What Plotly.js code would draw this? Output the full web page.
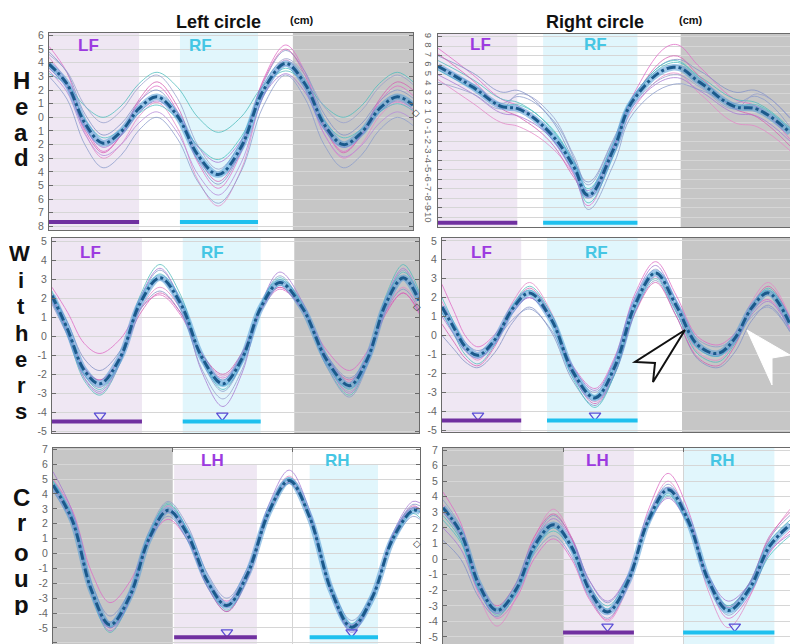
<!DOCTYPE html>
<html><head><meta charset="utf-8">
<script src="https://cdn.plot.ly/plotly-3.0.1.min.js"></script>
<style>html,body{margin:0;padding:0;background:#fff}#chart{width:790px;height:644px}</style>
</head><body><div id="chart"></div>
<script>
// ---------------- DATA ----------------
// Head, left circle
const headL_x = [0, 0.15, 0.30, 0.45, 0.60, 0.75, 0.90, 1.07, 1.24, 1.41, 1.60, 1.78, 1.97, 2.13, 2.29, 2.45, 2.60, 2.75, 2.90, 3.03];
const headL_mean = [3.9, 2.45, -0.45, -1.9, -1.05, 0.65, 1.5, 0.08, -2.78, -4.2, -2.16, 1.91, 3.95, 2.46, -0.51, -2.0, -1.13, 0.63, 1.5, 0.9];
const headL_trials = [
  [5.2, 3.28, -0.58, -2.5, -1.3, 1.1, 2.3, 0.43, -3.33, -5.2, -2.58, 2.68, 5.3, 3.35, -0.55, -2.5, -1.3, 1.1, 2.3, 1.6],
  [4.8, 3.28, 0.23, -1.3, -0.48, 1.18, 2.0, 0.28, -3.18, -4.9, -2.45, 2.45, 4.9, 3.35, 0.25, -1.3, -0.48, 1.18, 2.0, 1.4],
  [4.4, 2.55, -1.15, -3.0, -1.98, 0.08, 1.1, -0.8, -4.6, -6.5, -3.83, 1.53, 4.2, 2.4, -1.2, -3.0, -1.98, 0.08, 1.1, 0.4],
  [3.2, 2.4, 0.8, 0.0, 0.83, 2.48, 3.3, 2.2, 0.0, -1.1, 0.03, 2.28, 3.4, 2.55, 0.85, 0.0, 0.83, 2.48, 3.3, 2.6],
  [3.6, 2.15, -0.75, -2.2, -1.35, 0.35, 1.2, 0.08, -2.18, -3.3, -1.68, 1.58, 3.2, 1.85, -0.85, -2.2, -1.35, 0.35, 1.2, 0.6],
  [3.0, 1.33, -2.03, -3.7, -2.78, -0.93, 0.0, -1.58, -4.73, -6.3, -3.95, 0.75, 3.1, 1.4, -2.0, -3.7, -2.78, -0.93, 0.0, -0.6],
  [4.0, 2.35, -0.95, -2.6, -1.3, 1.3, 2.6, 0.78, -2.88, -4.7, -2.28, 2.58, 5.0, 3.1, -0.7, -2.6, -1.3, 1.3, 2.6, 2.0],
  [3.8, 2.48, -0.18, -1.5, -0.9, 0.3, 0.9, -0.1, -2.1, -3.1, -1.43, 1.93, 3.6, 2.33, -0.23, -1.5, -0.88, 0.38, 1.0, 0.5],
  [4.6, 3.35, 0.85, -0.4, 0.48, 2.23, 3.1, 1.38, -2.08, -3.8, -1.78, 2.28, 4.3, 3.13, 0.78, -0.4, 0.48, 2.23, 3.1, 2.4],
  [3.4, 1.85, -1.25, -2.8, -2.0, -0.4, 0.4, -1.13, -4.18, -5.7, -3.33, 1.43, 3.8, 2.13, -1.23, -2.9, -2.08, -0.43, 0.4, -0.2]
];
// Head, right circle
const headR_x = [0, 0.29, 0.52, 0.68, 0.93, 1.13, 1.25, 1.46, 1.63, 1.96, 2.18, 2.46, 2.66, 2.93];
const headR_mean = [5.9, 3.7, 1.7, 1.35, -1.1, -4.7, -7.7, -2.9, 2.4, 5.8, 4.2, 1.7, 1.35, -1.1];
const headR_trials = [
  [7.8, 5.0, 2.5, 1.6, -1.5, -5.5, -8.8, -3.0, 3.0, 8.2, 5.8, 2.5, 1.6, -1.8],
  [7.0, 5.2, 3.2, 3.3, 0.5, -4.0, -6.3, -1.8, 2.8, 6.6, 5.4, 3.2, 3.3, 0.4],
  [4.5, 2.0, 0.0, -0.5, -2.5, -5.5, -8.0, -3.5, 1.5, 5.2, 3.0, 0.0, -0.5, -3.0],
  [6.5, 4.5, 2.5, 2.0, -0.5, -4.5, -8.5, -3.5, 2.5, 6.3, 4.8, 2.5, 2.0, -0.6],
  [5.0, 3.0, 1.0, 0.6, -1.5, -5.2, -7.2, -2.5, 1.8, 4.7, 3.3, 1.0, 0.6, -2.0],
  [6.0, 4.0, 2.0, 2.7, 0.6, -3.8, -9.2, -4.5, 1.0, 4.0, 3.4, 2.0, 2.7, -0.5],
  [7.2, 4.4, 1.5, 0.5, -2.0, -5.8, -7.8, -2.6, 2.6, 7.0, 4.8, 1.5, 0.5, -2.5],
  [5.5, 3.5, 1.8, 1.8, -0.4, -4.2, -7.0, -2.2, 2.8, 6.5, 4.6, 1.8, 1.8, -0.8],
  [4.2, 3.0, 1.4, 3.0, 1.0, -3.5, -6.6, -2.0, 2.0, 5.0, 3.7, 1.4, 3.0, 0.5]
];
// Withers, left circle
const withL_x = [0, 0.13, 0.27, 0.4, 0.57, 0.73, 0.9, 1.075, 1.25, 1.425, 1.585, 1.74, 1.9, 2.09, 2.29, 2.48, 2.63, 2.78, 2.93, 3.06];
const withL_mean = [2.15, 0.38, -1.8, -2.5, -1.1, 1.7, 3.1, 1.7, -1.1, -2.5, -1.16, 1.51, 2.85, 1.49, -1.24, -2.6, -1.18, 1.68, 3.1, 1.9];
const withL_trials = [
  [2.6, 1.27, -0.38, -0.9, -0.13, 1.43, 2.2, 1.1, -1.1, -2.2, -1.03, 1.33, 2.5, 1.43, -0.73, -1.8, -0.78, 1.28, 2.3, 1.2],
  [2.3, 0.74, -1.19, -1.8, -0.75, 1.35, 2.4, 1.23, -1.13, -2.3, -1.05, 1.45, 2.7, 1.48, -0.98, -2.2, -1.03, 1.33, 2.5, 1.4],
  [1.8, 0.24, -1.69, -2.3, -1.08, 1.38, 2.6, 1.43, -0.93, -2.1, -0.93, 1.43, 2.6, 1.35, -1.15, -2.4, -1.15, 1.35, 2.6, 1.5],
  [2.0, 0.06, -2.34, -3.1, -1.38, 2.08, 3.8, 2.15, -1.15, -2.8, -1.35, 1.55, 3.0, 1.48, -1.58, -3.1, -1.38, 2.08, 3.8, 2.4],
  [2.2, 0.22, -2.22, -3.0, -1.35, 1.95, 3.6, 1.78, -1.88, -3.7, -1.93, 1.63, 3.4, 1.8, -1.4, -3.0, -1.35, 1.95, 3.6, 2.2],
  [1.9, 0.08, -2.18, -2.9, -1.3, 1.9, 3.5, 1.9, -1.3, -2.9, -1.38, 1.68, 3.2, 1.6, -1.6, -3.2, -1.53, 1.83, 3.5, 2.0],
  [2.0, 0.37, -1.66, -2.3, -1.15, 1.15, 2.3, 1.23, -0.93, -2.0, -0.85, 1.45, 2.6, 1.38, -1.08, -2.3, -1.15, 1.15, 2.3, 1.3],
  [2.4, 0.42, -2.02, -2.8, -1.28, 1.78, 3.3, 1.83, -1.13, -2.6, -1.18, 1.68, 3.1, 1.63, -1.33, -2.8, -1.25, 1.85, 3.4, 2.3],
  [1.7, 0.03, -2.04, -2.7, -1.28, 1.58, 3.0, 1.43, -1.73, -3.3, -1.75, 1.35, 2.9, 1.45, -1.45, -2.9, -1.43, 1.53, 3.0, 1.9]
];
// Withers, right circle
const withR_x = [0, 0.1, 0.2, 0.3, 0.44, 0.59, 0.73, 0.91, 1.09, 1.275, 1.44, 1.61, 1.78, 1.95, 2.13, 2.3, 2.44, 2.58, 2.72, 2.9];
const withR_mean = [1.5, 0.4, -0.64, -1.05, -0.23, 1.43, 2.25, 0.86, -1.91, -3.3, -1.65, 1.65, 3.3, 1.6, -0.5, -0.95, -0.15, 1.45, 2.25, 0.6];
const withR_trials = [
  [2.7, 1.28, -0.07, -0.6, 0.05, 1.35, 2.0, 0.8, -1.6, -2.8, -1.13, 2.23, 3.9, 2.14, -0.06, -0.5, 0.1, 1.3, 1.9, 0.4],
  [0.0, -0.73, -1.43, -1.7, -0.9, 0.7, 1.5, 0.2, -2.4, -3.7, -2.05, 1.25, 2.9, 1.06, -1.24, -1.7, -0.88, 0.78, 1.6, 0.2],
  [1.8, 0.47, -0.8, -1.3, -0.28, 1.78, 2.8, 1.23, -1.93, -3.5, -1.85, 1.45, 3.1, 1.34, -0.86, -1.3, -0.28, 1.78, 2.8, 1.0],
  [1.2, 0.04, -1.07, -1.5, -0.48, 1.58, 2.6, 1.15, -1.75, -3.2, -1.65, 1.45, 3.0, 1.24, -0.96, -1.4, -0.43, 1.53, 2.5, 0.8],
  [1.0, 0.05, -0.85, -1.2, -0.4, 1.2, 2.0, 0.78, -1.68, -2.9, -1.25, 2.05, 3.7, 1.82, -0.53, -1.0, -0.3, 1.1, 1.8, 0.3],
  [1.6, 0.57, -0.42, -0.8, -0.25, 0.85, 1.4, 0.3, -1.9, -3.0, -1.38, 1.88, 3.5, 1.86, -0.19, -0.6, -0.08, 0.98, 1.5, 0.2],
  [0.6, -0.35, -1.25, -1.6, -0.58, 1.48, 2.5, 0.98, -2.08, -3.6, -2.0, 1.2, 2.8, 1.04, -1.16, -1.6, -0.55, 1.55, 2.6, 0.9],
  [2.0, 0.67, -0.6, -1.1, -0.23, 1.53, 2.4, 0.85, -2.25, -3.8, -2.03, 1.53, 3.3, 1.54, -0.66, -1.1, -0.23, 1.53, 2.4, 0.6]
];
// Croup, left circle
const croupL_x = [0, 0.16, 0.32, 0.475, 0.64, 0.8, 0.96, 1.12, 1.29, 1.45, 1.62, 1.8, 1.97, 2.14, 2.32, 2.49, 2.66, 2.83, 3.0, 3.06];
const croupL_mean = [4.6, 2.25, -2.45, -4.8, -2.88, 0.98, 2.9, 1.3, -1.9, -3.5, -1.4, 2.8, 4.9, 2.44, -2.49, -4.95, -2.99, 0.94, 2.9, 2.8];
const croupL_trials = [
  [5.0, 2.93, -1.23, -3.3, -1.9, 0.9, 2.3, 0.93, -1.83, -3.2, -1.23, 2.73, 4.7, 2.33, -2.43, -4.8, -2.83, 1.13, 3.1, 3.0],
  [4.8, 2.55, -1.95, -4.2, -2.53, 0.83, 2.5, 0.9, -2.3, -3.9, -1.68, 2.78, 5.0, 2.45, -2.65, -5.2, -3.08, 1.18, 3.3, 3.2],
  [4.4, 2.05, -2.65, -5.0, -3.0, 1.0, 3.0, 1.4, -1.8, -3.4, -1.25, 3.05, 5.2, 2.68, -2.38, -4.9, -2.93, 1.03, 3.0, 2.9],
  [4.9, 2.35, -2.75, -5.3, -3.13, 1.23, 3.4, 1.6, -2.0, -3.8, -1.68, 2.58, 4.7, 2.35, -2.35, -4.7, -2.85, 0.85, 2.7, 2.4],
  [5.5, 2.83, -2.53, -5.2, -3.1, 1.1, 3.2, 1.5, -1.9, -3.6, -1.3, 3.3, 5.6, 2.88, -2.58, -5.3, -3.1, 1.3, 3.5, 3.4],
  [4.2, 2.0, -2.4, -4.6, -2.58, 1.48, 3.5, 1.88, -1.38, -3.0, -1.0, 3.0, 5.0, 2.63, -2.13, -4.5, -2.75, 0.75, 2.5, 2.3],
  [4.6, 2.2, -2.6, -5.0, -3.05, 0.85, 2.8, 1.13, -2.23, -3.9, -1.73, 2.63, 4.8, 2.33, -2.63, -5.1, -3.03, 1.13, 3.2, 3.0],
  [4.8, 2.38, -2.48, -4.9, -2.85, 1.25, 3.3, 1.6, -1.8, -3.5, -1.35, 2.95, 5.1, 2.58, -2.48, -5.0, -3.03, 0.93, 2.9, 2.8]
];
// Croup, right circle
const croupR_x = [0, 0.15, 0.3, 0.45, 0.61, 0.76, 0.92, 1.07, 1.22, 1.37, 1.54, 1.71, 1.875, 2.04, 2.21, 2.375, 2.55, 2.72, 2.89];
const croupR_mean = [3.3, 1.65, -1.65, -3.3, -1.93, 0.83, 2.2, 0.8, -2.0, -3.4, -1.44, 2.49, 4.45, 2.51, -1.36, -3.3, -1.93, 0.83, 2.2];
const croupR_trials = [
  [4.3, 2.28, -1.78, -3.8, -2.53, 0.03, 1.3, 0.0, -2.6, -3.9, -1.55, 3.15, 5.5, 3.18, -1.48, -3.8, -2.4, 0.4, 1.8],
  [1.2, -0.03, -2.48, -3.7, -2.08, 1.18, 2.8, 1.4, -1.4, -2.8, -1.1, 2.3, 4.0, 2.25, -1.25, -3.0, -1.55, 1.35, 2.8],
  [3.5, 1.55, -2.35, -4.3, -2.43, 1.33, 3.2, 1.4, -2.2, -4.0, -1.75, 2.75, 5.0, 2.65, -2.05, -4.4, -2.5, 1.3, 3.2],
  [2.8, 1.2, -2.0, -3.6, -2.2, 0.6, 2.0, 0.75, -1.75, -3.0, -1.2, 2.4, 4.2, 2.4, -1.2, -3.0, -1.63, 1.13, 2.5],
  [2.0, 0.63, -2.13, -3.5, -1.98, 1.08, 2.6, 1.28, -1.38, -2.7, -1.05, 2.25, 3.9, 2.25, -1.05, -2.7, -1.63, 0.53, 1.6],
  [3.8, 2.05, -1.45, -3.2, -2.03, 0.33, 1.5, 0.18, -2.48, -3.8, -1.65, 2.65, 4.8, 2.7, -1.5, -3.6, -2.18, 0.68, 2.1],
  [3.0, 1.5, -1.5, -3.0, -1.53, 1.43, 2.9, 1.35, -1.75, -3.3, -1.33, 2.63, 4.6, 2.68, -1.18, -3.1, -1.58, 1.48, 3.0],
  [2.5, 1.05, -1.85, -3.3, -2.03, 0.53, 1.8, 0.55, -1.95, -3.2, -1.38, 2.28, 4.1, 2.28, -1.38, -3.2, -2.13, 0.23, 1.5]
];
// phase spans (stance of limbs) and event markers
const headL_spans = {lav:[0,0.75], cyan:[1.09,1.74], grey:[2.03,3.1]};
const headR_spans = {lav:[0,0.66], cyan:[0.875,1.66], grey:[2.02,3.0]};
const withL_spans = {lav:[0,0.75], cyan:[1.09,1.74], grey:[2.02,3.1]};
const withR_spans = {lav:[0,0.66], cyan:[0.875,1.63], grey:[2.0,3.0]};
const croupL_spans = {grey:[0,1.0], lav:[1.01,1.7], cyan:[2.14,2.71]};
const croupR_spans = {grey:[0,1.0], lav:[1.0,1.59], cyan:[2.0,2.76]};
const withL_events = [0.4, 1.42];
const withR_events = [0.3, 1.275];
const croupL_events = [1.45, 2.49];
const croupR_events = [1.37, 2.43];
// tick labels
const headL_ticks = [6,5,4,3,2,1,0,-1,-2,-3,-4,-5,-6,-7,-8];
const headL_tickText = ['6','5','4','3','2','1','0','1','2','3','4','5','6','7','8'];
const headR_ticks = [9,8,7,6,5,4,3,2,1,0,-1,-2,-3,-4,-5,-6,-7,-8,-9,-10];
const withTicks = [5,4,3,2,1,0,-1,-2,-3,-4,-5];
const croupTicks = [7,6,5,4,3,2,1,0,-1,-2,-3,-4,-5,-6];
const colTitles = ['Left circle', 'Right circle'];
const rowLetters = [['H','e','a','d'], ['W','i','t','h','e','r','s'], ['C','r','o','u','p']];
const frontLabels = ['LF', 'RF'];
const hindLabels = ['LH', 'RH'];

// ---------------- STYLE / LAYOUT ----------------
const W = 790, H = 644;
const FONT = 'Liberation Sans, Arial, sans-serif';
const px = v => v / W, py = v => 1 - v / H;
const trialColors = ['#e06cc6','#8492c6','#e488c8','#50bcbc','#a87ad4','#8c9ccc','#d660b2','#4cc2c2','#98a0cc','#b68ad8'];
const LAV = '#efe7f3', CYAN = '#e1f6fc', GREY = '#c6c6c6';
const PURPLE_BAR = '#7030a0', CYAN_BAR = '#1ec0ee';
const PURPLE_TXT = '#9d3ae0', CYAN_TXT = '#45c6e4';

const panels = [
  {n:'', x:headL_x, mean:headL_mean, trials:headL_trials, spans:headL_spans, events:[], evY:0, sm:1.0,
   dom:[49,413,33,230], xr:[0,3.03], yr:[-8.26,6.18], ticks:headL_ticks, tickText:headL_tickText,
   left:true, barY:-7.68, labY:5.3, lab:frontLabels, labX:[0.33,1.26], bottom:false},
  {n:'2', x:headR_x, mean:headR_mean, trials:headR_trials, spans:headR_spans, events:[], evY:0, sm:1.2,
   dom:[438,790,34,227], xr:[0,2.93], yr:[-11.05,9.3], ticks:headR_ticks, tickText:headR_ticks.map(String),
   left:false, barY:-10.6, labY:8.2, lab:frontLabels, labX:[0.35,1.31], bottom:false, rot:true},
  {n:'3', x:withL_x, mean:withL_mean, trials:withL_trials, spans:withL_spans, events:withL_events, evY:-4.18, sm:1.0,
   dom:[52,419,238,433], xr:[0,3.06], yr:[-5.1,5.2], ticks:withTicks, tickText:withTicks.map(String),
   left:true, barY:-4.49, labY:4.45, lab:frontLabels, labX:[0.32,1.34], bottom:false},
  {n:'4', x:withR_x, mean:withR_mean, trials:withR_trials, spans:withR_spans, events:withR_events, evY:-4.23, sm:1.0,
   dom:[442,790,238,432], xr:[0,2.9], yr:[-5.1,5.15], ticks:withTicks, tickText:withTicks.map(String),
   left:false, barY:-4.49, labY:4.4, lab:frontLabels, labX:[0.33,1.29], bottom:false},
  {n:'5', x:croupL_x, mean:croupL_mean, trials:croupL_trials, spans:croupL_spans, events:croupL_events, evY:-5.3, sm:1.0,
   dom:[53,420,448,644], xr:[0,3.06], yr:[-6.08,7.09], ticks:croupTicks, tickText:croupTicks.map(String),
   left:true, barY:-5.63, labY:6.25, lab:hindLabels, labX:[1.33,2.37], bottom:true, topCut:6.0},
  {n:'6', x:croupR_x, mean:croupR_mean, trials:croupR_trials, spans:croupR_spans, events:croupR_events, evY:-4.33, sm:1.0,
   dom:[443,790,448,644], xr:[0,2.89], yr:[-5.45,7.13], ticks:croupTicks, tickText:croupTicks.map(String),
   left:false, barY:-4.71, labY:6.3, lab:hindLabels, labX:[1.29,2.33], bottom:true}
];

const data = [];
const layout = {
  width: W, height: H, margin:{l:0,r:0,t:0,b:0},
  paper_bgcolor:'#ffffff', plot_bgcolor:'#ffffff', showlegend:false,
  font:{family:FONT}, shapes:[], annotations:[]
};

panels.forEach(p => {
  const xa = 'x' + p.n, ya = 'y' + p.n;
  const xKey = 'xaxis' + p.n, yKey = 'yaxis' + p.n;
  layout[xKey] = {
    domain:[px(p.dom[0]), px(p.dom[1])], range:p.xr, anchor:ya, zeroline:false,
    showticklabels:false, fixedrange:true,
    showline:true, linecolor:'#6a6a6a', linewidth:1,
    mirror: p.bottom ? false : true, side: p.bottom ? 'top' : 'bottom',
    showgrid: p.bottom, gridcolor:'#d4d4d4', gridwidth:1,
    tickvals: p.bottom ? [1,2] : [], ticks: p.bottom ? 'inside' : '', ticklen:4, tickcolor:'#6a6a6a'
  };
  layout[yKey] = {
    domain:[py(p.dom[3]), py(p.dom[2])], range:p.yr, anchor:xa, zeroline:false, fixedrange:true,
    tickvals:p.ticks, ticktext:p.tickText, ticks:'inside', ticklen:4, tickcolor:'#6a6a6a',
    showline:true, linecolor:'#6a6a6a', linewidth:1, mirror: p.left ? 'ticks' : false,
    showgrid:true, gridcolor:'#d6d6d6', gridwidth:1,
    tickfont:{family:FONT, size: p.rot ? 9.5 : 10.5, color:'#666'},
    tickangle: p.rot ? 90 : 0, ticklabelstandoff: p.rot ? 1 : 2
  };
  // shading
  const yTop = p.topCut !== undefined ? p.topCut : p.yr[1];
  const addRect = (span, color, top) => layout.shapes.push({type:'rect', xref:xa, yref:ya, x0:span[0], x1:span[1],
    y0:p.yr[0], y1:top, fillcolor:color, line:{width:0}, layer:'below'});
  addRect(p.spans.grey, GREY, p.yr[1]);
  addRect(p.spans.lav, LAV, yTop);
  addRect(p.spans.cyan, CYAN, yTop);
  // trials
  p.trials.forEach((t, i) => data.push({x:p.x, y:t, xaxis:xa, yaxis:ya, type:'scatter', mode:'lines',
    line:{shape:'spline', smoothing:p.sm, width:1, color:trialColors[i % trialColors.length]}, opacity:0.78, hoverinfo:'skip'}));
  // mean: halo + dash-dot
  data.push({x:p.x, y:p.mean, xaxis:xa, yaxis:ya, type:'scatter', mode:'lines',
    line:{shape:'spline', smoothing:p.sm, width:6.5, color:'rgba(80,155,215,0.55)'}, hoverinfo:'skip'});
  data.push({x:p.x, y:p.mean, xaxis:xa, yaxis:ya, type:'scatter', mode:'lines',
    line:{shape:'spline', smoothing:p.sm, width:3, color:'#1b5a8c', dash:'dashdot'}, hoverinfo:'skip'});
  // stance bars
  layout.shapes.push({type:'line', xref:xa, yref:ya, x0:p.spans.lav[0], x1:p.spans.lav[1], y0:p.barY, y1:p.barY,
    line:{color:PURPLE_BAR, width:4}, layer:'above'});
  layout.shapes.push({type:'line', xref:xa, yref:ya, x0:p.spans.cyan[0], x1:p.spans.cyan[1], y0:p.barY, y1:p.barY,
    line:{color:CYAN_BAR, width:4}, layer:'above'});
  // events
  if (p.events.length) data.push({x:p.events, y:p.events.map(() => p.evY), xaxis:xa, yaxis:ya, type:'scatter',
    mode:'markers', marker:{symbol:'triangle-down-open', size:10, color:'#5a4ed6', line:{width:1.3}}, cliponaxis:false, hoverinfo:'skip'});
  // limb labels
  layout.annotations.push({xref:xa, yref:ya, x:p.labX[0], y:p.labY, text:'<b>'+p.lab[0]+'</b>', showarrow:false,
    font:{family:FONT, size:17, color:PURPLE_TXT}});
  layout.annotations.push({xref:xa, yref:ya, x:p.labX[1], y:p.labY, text:'<b>'+p.lab[1]+'</b>', showarrow:false,
    font:{family:FONT, size:17, color:CYAN_TXT}});
});

// column titles
[[218, 302], [595, 691]].forEach((pos, i) => {
  layout.annotations.push({xref:'paper', yref:'paper', x:px(pos[0]), y:py(22), text:'<b>'+colTitles[i]+'</b>',
    showarrow:false, font:{family:FONT, size:18, color:'#111'}, xanchor:'center', yanchor:'middle'});
  layout.annotations.push({xref:'paper', yref:'paper', x:px(pos[1]), y:py(20), text:'<b>(cm)</b>',
    showarrow:false, font:{family:FONT, size:11, color:'#111'}, xanchor:'center', yanchor:'middle'});
});
// row letters
const rowY = [[80,106,132,157],[253,280,306,333,359,385,411],[497,522,552,578,604]];
const rowSize = [24, 22, 24];
rowLetters.forEach((letters, r) => letters.forEach((ch, k) => layout.annotations.push({
  xref:'paper', yref:'paper', x:px(ch === 'W' ? 19 : 21), y:py(rowY[r][k]), text:'<b>'+ch+'</b>', showarrow:false,
  font:{family:FONT, size:rowSize[r], color:'#111'}, xanchor:'center', yanchor:'middle', height:22})));
// small diamonds at right edges
[[416,113],[417,307],[417,543]].forEach(d => layout.annotations.push({xref:'paper', yref:'paper', x:px(d[0]), y:py(d[1]),
  text:'◇', showarrow:false, font:{family:'DejaVu Sans', size:10, color:'#444'}, xanchor:'center', yanchor:'middle'}));
// cursor arrows in the withers / right circle panel
const path = pts => 'M ' + pts.map(q => px(q[0]) + ' ' + py(q[1])).join(' L ') + ' Z';
layout.shapes.push({type:'path', xref:'paper', yref:'paper', path:path([[685,330],[635,362],[655,363],[653,382]]),
  fillcolor:'rgba(255,255,255,0.55)', line:{color:'#111', width:2}, layer:'above'});
layout.shapes.push({type:'path', xref:'paper', yref:'paper', path:path([[747,330],[790,355],[772,358],[772,385]]),
  fillcolor:'#ffffff', line:{color:'#ffffff', width:1}, layer:'above'});

Plotly.newPlot('chart', data, layout, {staticPlot:true, displayModeBar:false});
</script></body></html>
